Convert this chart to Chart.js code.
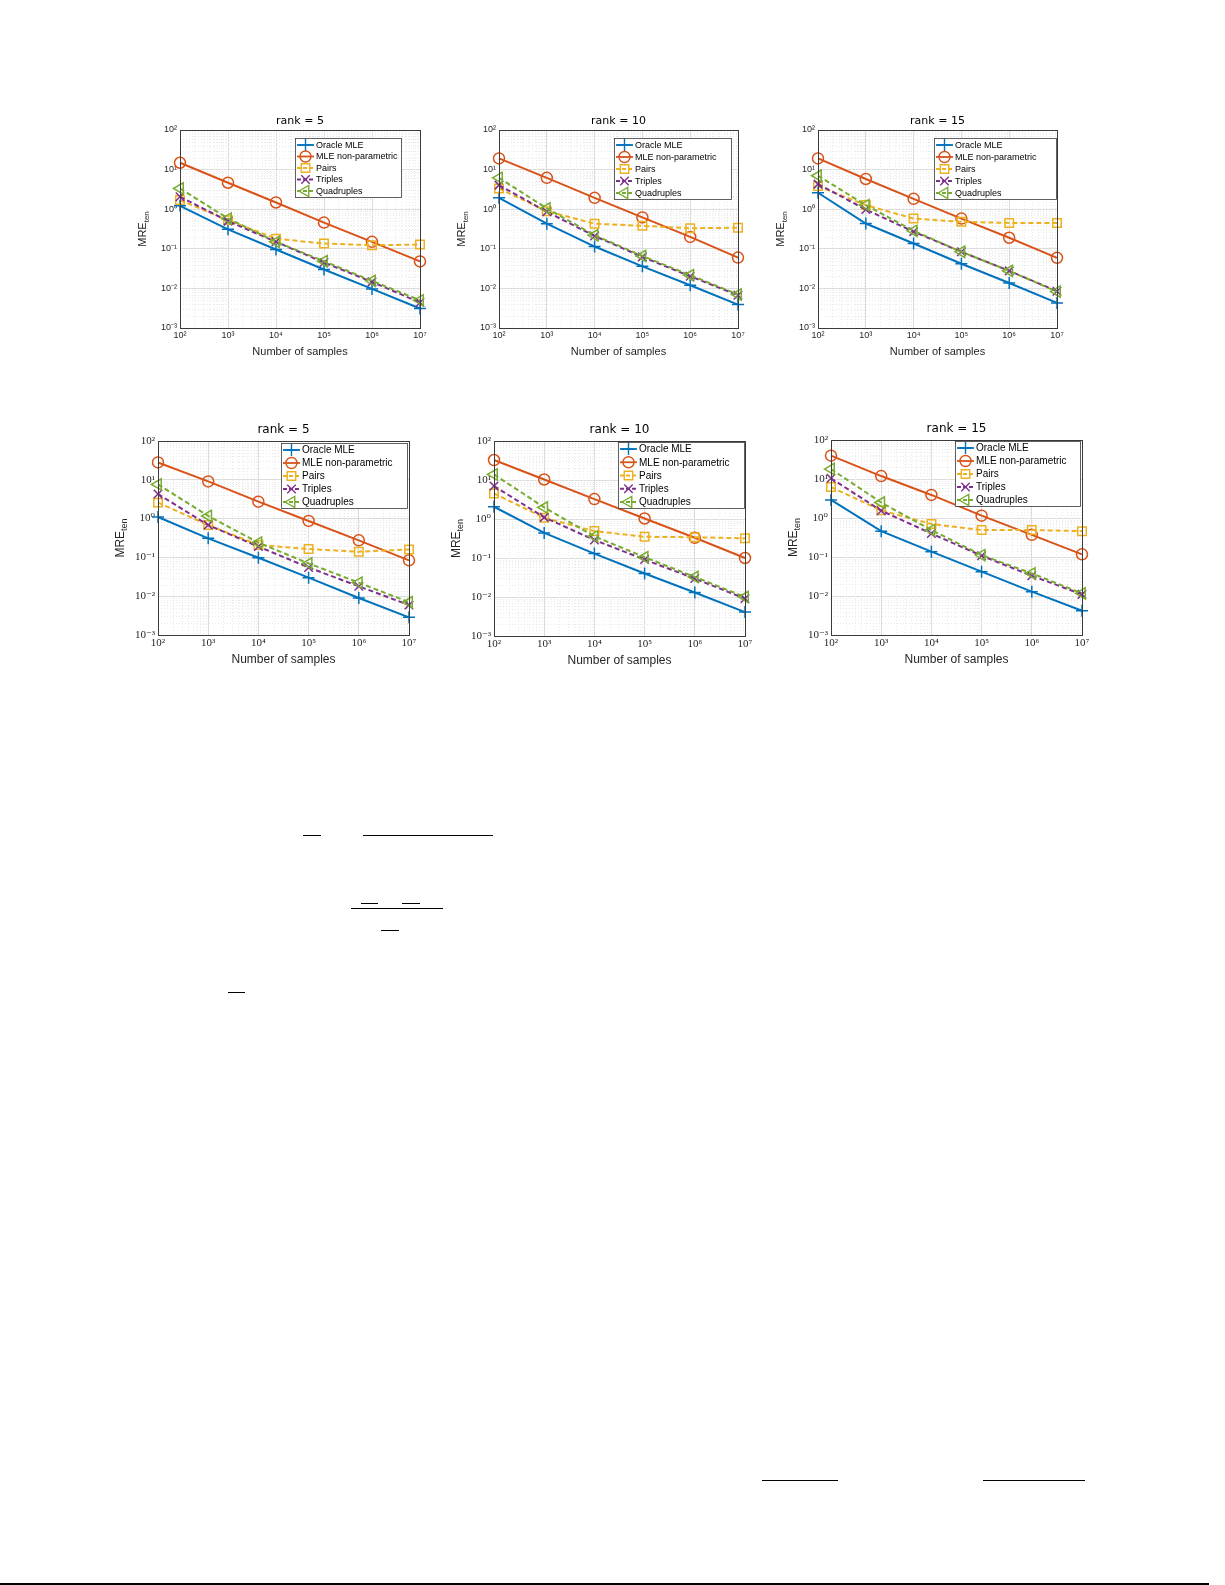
<!DOCTYPE html>
<html>
<head>
<meta charset="utf-8">
<script src="https://cdn.jsdelivr.net/npm/chart.js@4/dist/chart.umd.min.js"></script>
<style>
  html, body { margin: 0; padding: 0; background: #ffffff; }
  body { width: 1225px; height: 1585px; position: relative; overflow: hidden; }
  canvas { position: absolute; }
  .rule { position: absolute; background: #000; height: 1px; }
</style>
</head>
<body>
<script>
// ---------------- DATA ----------------
const sampleSizes = [1e2, 1e3, 1e4, 1e5, 1e6, 1e7];
const ranks = [5, 10, 15];
const seriesNames = ['Oracle MLE', 'MLE non-parametric', 'Pairs', 'Triples', 'Quadruples'];
const xTickValues = [1e2, 1e3, 1e4, 1e5, 1e6, 1e7];
const yTickValues = [1e-3, 1e-2, 1e-1, 1e0, 1e1, 1e2];
const yLabelMain = 'MRE';
const yLabelSub = 'ten';
const xLabel = 'Number of samples';

// top row
const topR5Oracle  = [1.22, 0.31, 0.096, 0.030, 0.0097, 0.0031];
const topR5MLE     = [14.9, 4.66, 1.48, 0.46, 0.15, 0.048];
const topR5Pairs   = [1.7, 0.53, 0.18, 0.136, 0.123, 0.128];
const topR5Triples = [2.06, 0.50, 0.15, 0.045, 0.0146, 0.0044];
const topR5Quad    = [3.34, 0.58, 0.15, 0.0486, 0.0155, 0.0050];

const topR10Oracle  = [1.94, 0.43, 0.114, 0.036, 0.012, 0.0039];
const topR10MLE     = [19.2, 6.2, 1.94, 0.62, 0.20, 0.060];
const topR10Pairs   = [3.34, 0.89, 0.43, 0.38, 0.33, 0.34];
const topR10Triples = [4.06, 0.86, 0.21, 0.0625, 0.0203, 0.0067];
const topR10Quad    = [6.2, 1.05, 0.22, 0.066, 0.0215, 0.0070];

const topR15Oracle  = [2.6, 0.435, 0.136, 0.042, 0.0137, 0.0043];
const topR15MLE     = [19.2, 5.8, 1.83, 0.58, 0.19, 0.059];
const topR15Pairs   = [3.83, 1.27, 0.58, 0.48, 0.45, 0.45];
const topR15Triples = [4.3, 0.98, 0.27, 0.084, 0.0277, 0.0085];
const topR15Quad    = [7.0, 1.27, 0.284, 0.084, 0.0277, 0.0083];

// bottom row
const botR5Oracle  = [1.1, 0.31, 0.098, 0.030, 0.0090, 0.00285];
const botR5MLE     = [28, 9.1, 2.73, 0.87, 0.275, 0.084];
const botR5Pairs   = [2.58, 0.68, 0.21, 0.164, 0.14, 0.16];
const botR5Triples = [4.3, 0.68, 0.19, 0.055, 0.018, 0.0059];
const botR5Quad    = [7.6, 1.17, 0.24, 0.070, 0.0223, 0.0070];

const botR10Oracle  = [2.06, 0.44, 0.13, 0.040, 0.013, 0.0041];
const botR10MLE     = [32.5, 10.3, 3.24, 1.03, 0.33, 0.10];
const botR10Pairs   = [4.5, 1.07, 0.49, 0.35, 0.34, 0.32];
const botR10Triples = [7.0, 1.1, 0.29, 0.091, 0.0297, 0.0091];
const botR10Quad    = [13.9, 1.98, 0.36, 0.105, 0.0327, 0.0100];

const botR15Oracle  = [2.9, 0.46, 0.137, 0.042, 0.0129, 0.0042];
const botR15MLE     = [39.6, 11.9, 3.9, 1.15, 0.37, 0.117];
const botR15Pairs   = [6.2, 1.57, 0.70, 0.49, 0.49, 0.46];
const botR15Triples = [10.4, 1.54, 0.40, 0.108, 0.033, 0.011];
const botR15Quad    = [18, 2.5, 0.49, 0.112, 0.038, 0.0117];

// ---------------- STYLE ----------------
const seriesStyles = [
  { color: '#0072BD', dash: [],     point: 'cross',    radius: 6,   rot: 0 },
  { color: '#D95319', dash: [],     point: 'circle',   radius: 5.5, rot: 0 },
  { color: '#EDB120', dash: [5, 3], point: 'rect',     radius: 6,   rot: 0 },
  { color: '#7E2F8E', dash: [5, 3], point: 'crossRot', radius: 6,   rot: 0 },
  { color: '#77AC30', dash: [5, 3], point: 'triangle', radius: 6.5, rot: -90 }
];

const looks = {
  top: {
    tick: { family: '"Liberation Sans", Arial, sans-serif', size: 9 },
    title: '11px "DejaVu Sans", sans-serif', titleOff: 9,
    axis: '11px "Liberation Sans", Arial, sans-serif', xTitleOff: 24,
    yMain: '11px "Liberation Sans", Arial, sans-serif', ySub: '8px "Liberation Sans", Arial, sans-serif',
    legend: '9px "Liberation Sans", Arial, sans-serif'
  },
  bottom: {
    tick: { family: '"Liberation Serif", "DejaVu Serif", serif', size: 11 },
    title: '12px "DejaVu Sans", sans-serif', titleOff: 11,
    axis: '12px "Liberation Sans", Arial, sans-serif', xTitleOff: 25,
    yMain: '12px "Liberation Sans", Arial, sans-serif', ySub: '9px "Liberation Sans", Arial, sans-serif',
    legend: '10px "Liberation Sans", Arial, sans-serif'
  }
};

const panels = [
  { plot: [180, 130, 420, 328], rank: ranks[0], look: 'top', legend: [295, 138, 106, 59],
    series: [topR5Oracle, topR5MLE, topR5Pairs, topR5Triples, topR5Quad] },
  { plot: [499, 130, 738, 328], rank: ranks[1], look: 'top', legend: [614, 138, 117, 61],
    series: [topR10Oracle, topR10MLE, topR10Pairs, topR10Triples, topR10Quad] },
  { plot: [818, 130, 1057, 328], rank: ranks[2], look: 'top', legend: [934, 138, 122, 61],
    series: [topR15Oracle, topR15MLE, topR15Pairs, topR15Triples, topR15Quad] },
  { plot: [158, 441, 409, 635], rank: ranks[0], look: 'bottom', legend: [281, 443, 126, 65],
    series: [botR5Oracle, botR5MLE, botR5Pairs, botR5Triples, botR5Quad] },
  { plot: [494, 441, 745, 636], rank: ranks[1], look: 'bottom', legend: [618, 442, 126, 66],
    series: [botR10Oracle, botR10MLE, botR10Pairs, botR10Triples, botR10Quad] },
  { plot: [831, 440, 1082, 635], rank: ranks[2], look: 'bottom', legend: [955, 441, 125, 65],
    series: [botR15Oracle, botR15MLE, botR15Pairs, botR15Triples, botR15Quad] }
];

// stray page rules (fraction bars from surrounding text)
const rules = [
  [303, 835, 18], [363, 835, 130], [361, 903, 17], [402, 903, 18], [351, 908, 92],
  [381, 930, 18], [228, 992, 17], [762, 1480, 76], [983, 1480, 102]
];

// ---------------- HELPERS ----------------
const SUP = { '-': '\u207B', '0': '\u2070', '1': '\u00B9', '2': '\u00B2', '3': '\u00B3',
  '4': '\u2074', '5': '\u2075', '6': '\u2076', '7': '\u2077', '8': '\u2078', '9': '\u2079' };
function pow10Label(v) {
  const e = Math.round(Math.log10(v));
  return '10' + String(e).split('').map(c => SUP[c]).join('');
}
function minorValues(lo, hi) {
  const out = [];
  for (let e = Math.round(Math.log10(lo)); e < Math.round(Math.log10(hi)); e++) {
    for (let m = 2; m <= 9; m++) out.push(m * Math.pow(10, e));
  }
  return out;
}
function drawMarker(ctx, style, x, y, r, rotDeg) {
  ctx.beginPath();
  if (style === 'cross') {
    ctx.moveTo(x - r, y); ctx.lineTo(x + r, y);
    ctx.moveTo(x, y - r); ctx.lineTo(x, y + r);
  } else if (style === 'crossRot') {
    const d = r * Math.SQRT1_2;
    ctx.moveTo(x - d, y - d); ctx.lineTo(x + d, y + d);
    ctx.moveTo(x - d, y + d); ctx.lineTo(x + d, y - d);
  } else if (style === 'circle') {
    ctx.arc(x, y, r, 0, Math.PI * 2);
  } else if (style === 'rect') {
    const s = r * Math.SQRT1_2;
    ctx.rect(x - s, y - s, 2 * s, 2 * s);
  } else if (style === 'triangle') {
    let rad = rotDeg * Math.PI / 180;
    ctx.moveTo(x + Math.sin(rad) * r, y - Math.cos(rad) * r);
    rad += 2 * Math.PI / 3;
    ctx.lineTo(x + Math.sin(rad) * r, y - Math.cos(rad) * r);
    rad += 2 * Math.PI / 3;
    ctx.lineTo(x + Math.sin(rad) * r, y - Math.cos(rad) * r);
    ctx.closePath();
  }
  ctx.stroke();
}

const decoPlugin = {
  id: 'deco',
  beforeDatasetsDraw(chart) {
    const ctx = chart.ctx, a = chart.chartArea;
    const xs = chart.scales.x, ys = chart.scales.y;
    ctx.save();
    ctx.strokeStyle = '#e9e9e9';
    ctx.lineWidth = 1;
    ctx.setLineDash([1, 2]);
    minorValues(xs.min, xs.max).forEach(v => {
      const px = Math.round(xs.getPixelForValue(v)) + 0.5;
      ctx.beginPath(); ctx.moveTo(px, a.top); ctx.lineTo(px, a.bottom); ctx.stroke();
    });
    minorValues(ys.min, ys.max).forEach(v => {
      const py = Math.round(ys.getPixelForValue(v)) + 0.5;
      ctx.beginPath(); ctx.moveTo(a.left, py); ctx.lineTo(a.right, py); ctx.stroke();
    });
    ctx.restore();
  },
  afterDatasetsDraw(chart) {
    const ctx = chart.ctx, a = chart.chartArea;
    const o = chart.options.plugins.deco;
    const lk = looks[o.look];
    ctx.save();
    // axes box
    ctx.strokeStyle = '#3a3a3a';
    ctx.lineWidth = 1;
    ctx.setLineDash([]);
    ctx.strokeRect(Math.round(a.left) + 0.5, Math.round(a.top) + 0.5,
      Math.round(a.right - a.left), Math.round(a.bottom - a.top));

    // title
    ctx.fillStyle = '#000';
    ctx.font = lk.title;
    ctx.textAlign = 'center';
    ctx.textBaseline = 'middle';
    ctx.fillText('rank = ' + o.rank, (a.left + a.right) / 2, a.top - lk.titleOff);

    // x title
    ctx.fillStyle = '#262626';
    ctx.font = lk.axis;
    ctx.fillText(xLabel, (a.left + a.right) / 2, a.bottom + lk.xTitleOff);

    // y title with subscript
    ctx.save();
    ctx.translate(a.left - 37, (a.top + a.bottom) / 2);
    ctx.rotate(-Math.PI / 2);
    ctx.font = lk.yMain;
    const w1 = ctx.measureText(yLabelMain).width;
    ctx.font = lk.ySub;
    const w2 = ctx.measureText(yLabelSub).width;
    const start = -(w1 + w2) / 2;
    ctx.textAlign = 'left';
    ctx.font = lk.yMain;
    ctx.fillText(yLabelMain, start, 0);
    ctx.font = lk.ySub;
    ctx.fillText(yLabelSub, start + w1, 4);
    ctx.restore();

    // legend
    const [lxAbs, lyAbs, lw, lh] = o.legend;
    const off = o.canvasOffset;
    const lx = lxAbs - off[0], ly = lyAbs - off[1];
    ctx.fillStyle = '#ffffff';
    ctx.fillRect(lx, ly, lw, lh);
    ctx.strokeStyle = '#3a3a3a';
    ctx.lineWidth = 0.8;
    ctx.strokeRect(Math.round(lx) + 0.5, Math.round(ly) + 0.5, lw, lh);
    const step = (lh - 13) / 4;
    ctx.font = lk.legend;
    ctx.textAlign = 'left';
    ctx.textBaseline = 'middle';
    seriesNames.forEach((name, i) => {
      const st = seriesStyles[i];
      const ry = ly + 7 + i * step;
      ctx.strokeStyle = st.color;
      ctx.lineWidth = 1.8;
      ctx.setLineDash(st.dash.length ? [4, 2] : []);
      ctx.beginPath(); ctx.moveTo(lx + 2, ry); ctx.lineTo(lx + 19, ry); ctx.stroke();
      ctx.setLineDash([]);
      ctx.lineWidth = 1.4;
      drawMarker(ctx, st.point, lx + 10.5, ry, st.radius, st.rot);
      ctx.fillStyle = '#000';
      ctx.fillText(name, lx + 21, ry + 0.5);
    });
    ctx.restore();
  }
};

// ---------------- BUILD ----------------
panels.forEach(p => {
  const [L, T, R, B] = p.plot;
  const padL = 60, padT = 30, padR = 15, padB = 40;
  const cv = document.createElement('canvas');
  const cw = R - L + padL + padR, ch = B - T + padT + padB;
  cv.width = cw; cv.height = ch;
  cv.style.left = (L - padL) + 'px';
  cv.style.top = (T - padT) + 'px';
  cv.style.width = cw + 'px';
  cv.style.height = ch + 'px';
  document.body.appendChild(cv);
  const lk = looks[p.look];

  const datasets = p.series.map((vals, i) => {
    const st = seriesStyles[i];
    return {
      label: seriesNames[i],
      data: sampleSizes.map((x, j) => ({ x: x, y: vals[j] })),
      borderColor: st.color,
      backgroundColor: 'rgba(0,0,0,0)',
      borderWidth: 2,
      borderDash: st.dash,
      pointStyle: st.point,
      pointRadius: st.radius,
      pointHoverRadius: st.radius,
      pointBorderWidth: 1.5,
      pointBorderColor: st.color,
      pointBackgroundColor: 'rgba(0,0,0,0)',
      pointRotation: st.rot,
      tension: 0,
      fill: false,
      clip: false,
      order: 5 - i
    };
  });

  new Chart(cv, {
    type: 'line',
    data: { datasets: datasets },
    options: {
      responsive: false,
      animation: false,
      events: [],
      layout: { padding: { left: 0, top: padT, right: padR, bottom: 0 } },
      plugins: {
        legend: { display: false },
        title: { display: false },
        tooltip: { enabled: false },
        deco: { rank: p.rank, look: p.look, legend: p.legend, canvasOffset: [L - padL, T - padT] }
      },
      scales: {
        x: {
          type: 'logarithmic',
          min: xTickValues[0], max: xTickValues[xTickValues.length - 1],
          afterBuildTicks: s => { s.ticks = xTickValues.map(v => ({ value: v, major: true })); },
          afterFit: s => { s.height = padB; },
          ticks: {
            autoSkip: false, maxRotation: 0, minRotation: 0, padding: 2,
            color: '#262626', font: lk.tick,
            callback: v => pow10Label(v)
          },
          grid: { color: '#dcdcdc', lineWidth: 1, drawTicks: false },
          border: { display: false }
        },
        y: {
          type: 'logarithmic',
          min: yTickValues[0], max: yTickValues[yTickValues.length - 1],
          afterBuildTicks: s => { s.ticks = yTickValues.map(v => ({ value: v, major: true })); },
          afterFit: s => { s.width = padL; },
          ticks: {
            autoSkip: false, padding: 3,
            color: '#262626', font: lk.tick,
            callback: v => pow10Label(v)
          },
          grid: { color: '#dcdcdc', lineWidth: 1, drawTicks: false },
          border: { display: false }
        }
      }
    },
    plugins: [decoPlugin]
  });
});

rules.forEach(r => {
  const d = document.createElement('div');
  d.className = 'rule';
  d.style.left = r[0] + 'px';
  d.style.top = r[1] + 'px';
  d.style.width = r[2] + 'px';
  document.body.appendChild(d);
});
const bottomRule = document.createElement('div');
bottomRule.className = 'rule';
bottomRule.style.left = '0px';
bottomRule.style.top = '1583px';
bottomRule.style.width = '1209px';
bottomRule.style.height = '1.5px';
document.body.appendChild(bottomRule);
</script>
</body>
</html>
